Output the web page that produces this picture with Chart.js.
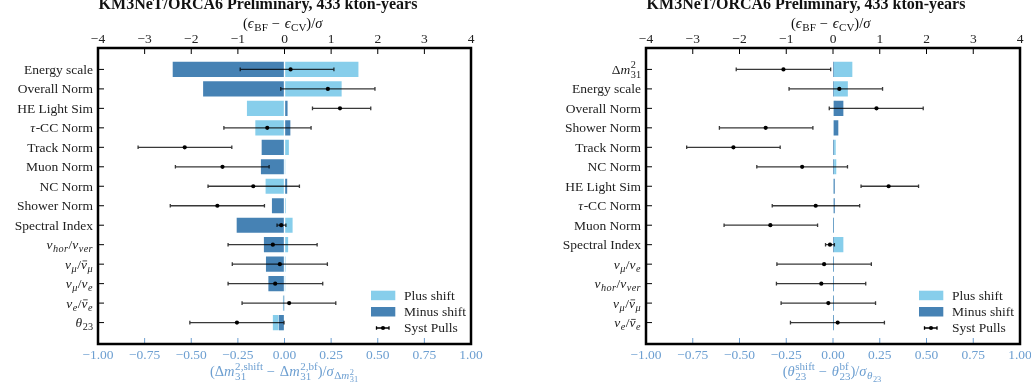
<!DOCTYPE html>
<html>
<head>
<meta charset="utf-8">
<script src="https://cdn.jsdelivr.net/npm/chart.js@4.4.1/dist/chart.umd.min.js"></script>
<style>
  body { margin: 0; background: #fff; width: 1031px; height: 390px; overflow: hidden; position: relative; }
  canvas { position: absolute; top: 0; }
</style>
</head>
<body>
<canvas id="left" width="515" height="390" style="left:0"></canvas>
<canvas id="right" width="516" height="390" style="left:515px"></canvas>
<script>
// ---- data ----
// left panel: shift of dm31^2
const labelsL = ["Energy scale", "Overall Norm", "HE Light Sim", "$τ$-CC Norm", "Track Norm", "Muon Norm",
  "NC Norm", "Shower Norm", "Spectral Index", "$ν_{hor}/ν_{ver}$", "$ν_μ/¯ν_μ$", "$ν_μ/ν_e$", "$ν_e/¯ν_e$", "$θ_{23}$"];
const plusL = [0.40, 0.31, -0.205, -0.16, 0.027, 0.005, -0.105, 0.01, 0.047, 0.023, 0.007, 0.005, -0.012, -0.066];
const minusL = [-0.603, -0.44, 0.02, 0.035, -0.126, -0.13, 0.018, -0.071, -0.26, -0.114, -0.103, -0.09, -0.006, -0.034];
const pullL = [0.13, 0.93, 1.19, -0.37, -2.14, -1.33, -0.67, -1.44, -0.07, -0.25, -0.10, -0.20, 0.10, -1.02];
const pullLoL = [-0.95, -0.08, 0.60, -1.30, -3.14, -2.34, -1.64, -2.45, -0.16, -1.21, -1.12, -1.21, -0.91, -2.03];
const pullHiL = [1.06, 1.94, 1.85, 0.57, -1.13, -0.33, 0.32, -0.43, 0.03, 0.70, 0.92, 0.82, 1.10, -0.01];

// right panel: shift of theta23
const labelsR = ["$Δm^2_{31}$", "Energy scale", "Overall Norm", "Shower Norm", "Track Norm", "NC Norm",
  "HE Light Sim", "$τ$-CC Norm", "Muon Norm", "Spectral Index", "$ν_μ/ν_e$", "$ν_{hor}/ν_{ver}$", "$ν_μ/¯ν_μ$", "$ν_e/¯ν_e$"];
const plusR = [0.107, 0.083, 0.02, 0.01, 0.018, 0.021, 0.006, 0.01, 0.004, 0.059, 0.005, 0.005, 0.005, 0.005];
const minusR = [0.004, 0.005, 0.059, 0.032, 0.006, 0.006, 0.013, 0.013, 0.005, 0.004, 0.006, 0.006, 0.006, 0.006];
const pullR = [-1.06, 0.135, 0.93, -1.44, -2.13, -0.66, 1.19, -0.37, -1.34, -0.065, -0.19, -0.25, -0.10, 0.10];
const pullLoR = [-2.07, -0.94, -0.08, -2.43, -3.13, -1.63, 0.60, -1.30, -2.33, -0.16, -1.20, -1.21, -1.11, -0.91];
const pullHiR = [-0.05, 1.06, 1.93, -0.43, -1.13, 0.31, 1.83, 0.57, -0.33, 0.03, 0.82, 0.70, 0.91, 1.10];

const titleText = "KM3NeT/ORCA6 Preliminary, 433 kton-years";
const topAxisTitle = "$(ϵ_{[BF]} − ϵ_{[CV]})/σ$";
const bottomTitleL = "$(Δm^{2,[shift]}_{31} − Δm^{2,[bf]}_{31})/σ_{Δm^2_{31}}$";
const bottomTitleR = "$(θ^{[shift]}_{23} − θ^{[bf]}_{23})/σ_{θ_{23}}$";
const legendNames = ["Plus shift", "Minus shift", "Syst Pulls"];

const FONT = '"Liberation Serif", "DejaVu Serif", serif';
const LIGHT = "#87ceeb";
const DARK = "#4682b4";
const BLUE = "#6d9fd1";
const FS = 13.5;
const SCR = 0.76;

// tiny TeX-ish text: $..$ math, _ ^ scripts, [..] upright, ¯ bar over next char
function parseRich(s) {
  let i = 0, math = false;
  function seq(rm) {
    const out = [];
    while (i < s.length) {
      const c = s[i];
      if (!math && !rm && c !== "$") {
        let run = "";
        while (i < s.length && s[i] !== "$") run += s[i++];
        out.push({ ch: run, rm: true });
        continue;
      }
      if (c === "}" || c === "]") { i++; break; }
      if (c === "$") { math = !math; i++; continue; }
      if (c === "{") { i++; out.push({ g: seq(rm) }); continue; }
      if (c === "[") { i++; out.push({ g: seq(true) }); continue; }
      if (c === "_" || c === "^") {
        i++;
        let arg;
        if (s[i] === "{") { i++; arg = seq(rm); }
        else { arg = [{ ch: s[i], rm }]; i++; }
        const prev = out[out.length - 1];
        prev.scr = prev.scr || {};
        prev.scr[c === "_" ? "sub" : "sup"] = arg;
        continue;
      }
      let bar = false;
      if (c === "¯") { bar = true; i++; }
      out.push({ ch: s[i], rm: rm, bar });
      i++;
    }
    return out;
  }
  return seq(false);
}

function rich(ctx, nodes, x, y, size, draw, bold) {
  let w = 0;
  for (const n of nodes) {
    let nw;
    if (n.g) {
      nw = rich(ctx, n.g, x + w, y, size, draw, bold);
    } else {
      const it = !n.rm && /[A-Za-zα-ωϵ]/.test(n.ch);
      ctx.font = (it ? "italic " : "") + (bold ? "bold " : "") + size + "px " + FONT;
      nw = ctx.measureText(n.ch).width;
      if (it) nw += size * 0.04;
      if (n.ch === "−") nw += size * 0.1;
      if (draw) {
        ctx.fillText(n.ch, x + w, y);
        if (n.bar) {
          ctx.fillRect(x + w + nw * 0.25, y - size * 0.6, nw * 0.7, Math.max(0.8, size * 0.06));
        }
      }
    }
    if (n.scr) {
      const s2 = size * SCR;
      let sw = 0, pw = 0;
      const both = n.scr.sub && n.scr.sup;
      if (n.scr.sub) sw = rich(ctx, n.scr.sub, x + w + nw, y + size * (both ? 0.3 : 0.22), s2, draw);
      if (n.scr.sup) pw = rich(ctx, n.scr.sup, x + w + nw, y - size * 0.42, s2, draw);
      nw += Math.max(sw, pw);
    }
    w += nw;
  }
  return w;
}

function richText(ctx, str, x, y, size, align, bold) {
  const nodes = parseRich(str);
  ctx.textAlign = "left";
  ctx.textBaseline = "alphabetic";
  const w = rich(ctx, nodes, 0, 0, size, false, bold);
  let x0 = x;
  if (align === "right") x0 = x - w;
  else if (align === "center") x0 = x - w / 2;
  rich(ctx, nodes, x0, y, size, true, bold);
}

function minus(s) { return String(s).replace("-", "−"); }

function makeChart(id, labels, plus, minusv, pull, lo, hi, bottomTitle, padL, padR) {
  const decor = {
    id: "decor",
    afterDraw(chart) {
      const c = chart.ctx;
      const ca = chart.chartArea;
      const xs = chart.scales.x, xt = chart.scales.x2, ys = chart.scales.y;
      c.save();
      // pulls with error bars on the sigma axis
      c.strokeStyle = "rgba(0,0,0,0.78)";
      c.fillStyle = "#000";
      c.lineWidth = 1.3;
      pull.forEach((p, i) => {
        const y = ys.getPixelForValue(i);
        const a = xt.getPixelForValue(lo[i]), b = xt.getPixelForValue(hi[i]);
        c.beginPath();
        c.moveTo(a, y); c.lineTo(b, y);
        c.moveTo(a, y - 1.8); c.lineTo(a, y + 1.8);
        c.moveTo(b, y - 1.8); c.lineTo(b, y + 1.8);
        c.stroke();
        c.beginPath();
        c.arc(xt.getPixelForValue(p), y, 2.1, 0, Math.PI * 2);
        c.fill();
      });
      // inward ticks
      c.lineWidth = 1;
      c.strokeStyle = "#000";
      c.beginPath();
      xt.ticks.forEach(t => {
        const x = xt.getPixelForValue(t.value);
        c.moveTo(x, ca.top); c.lineTo(x, ca.top + 6);
      });
      labels.forEach((l, i) => {
        const y = ys.getPixelForValue(i);
        c.moveTo(ca.left, y); c.lineTo(ca.left + 6, y);
      });
      c.stroke();
      c.strokeStyle = BLUE;
      c.beginPath();
      xs.ticks.forEach(t => {
        const x = xs.getPixelForValue(t.value);
        c.moveTo(x, ca.bottom); c.lineTo(x, ca.bottom - 6);
      });
      c.stroke();
      // frame
      c.strokeStyle = "#000";
      c.lineWidth = 2.5;
      c.strokeRect(ca.left, ca.top, ca.right - ca.left, ca.bottom - ca.top);
      // category labels
      c.fillStyle = "#222";
      labels.forEach((l, i) => {
        const y = ys.getPixelForValue(i);
        richText(c, l, ca.left - 5, y + FS * 0.33, FS, "right");
      });
      // titles
      c.fillStyle = "#111";
      richText(c, titleText, ca.left + 160, 9, 16, "center", true);
      richText(c, topAxisTitle, ca.left + 185, 27.5, 14.5, "center");
      c.fillStyle = BLUE;
      richText(c, bottomTitle, ca.left + 186, 376, 14.5, "center");
      // legend
      const lx = ca.left + 273, tx = ca.left + 306;
      c.fillStyle = LIGHT;
      c.fillRect(lx, ca.bottom - 53.3, 24.3, 9.5);
      c.fillStyle = DARK;
      c.fillRect(lx, ca.bottom - 37, 24.3, 9.5);
      const ly = ca.bottom - 16;
      c.strokeStyle = "#000";
      c.lineWidth = 1.3;
      c.beginPath();
      c.moveTo(lx + 5.5, ly); c.lineTo(lx + 18, ly);
      c.moveTo(lx + 5.5, ly - 1.8); c.lineTo(lx + 5.5, ly + 1.8);
      c.moveTo(lx + 18, ly - 1.8); c.lineTo(lx + 18, ly + 1.8);
      c.stroke();
      c.fillStyle = "#000";
      c.beginPath(); c.arc(lx + 12, ly, 2.1, 0, Math.PI * 2); c.fill();
      c.fillStyle = "#222";
      richText(c, legendNames[0], tx, ca.bottom - 48.5 + FS * 0.33, FS, "left");
      richText(c, legendNames[1], tx, ca.bottom - 32 + FS * 0.33, FS, "left");
      richText(c, legendNames[2], tx, ly + FS * 0.33, FS, "left");
      c.restore();
    }
  };

  const barCommon = { grouped: false, barThickness: 16.5, borderWidth: 1, borderColor: "rgba(255,255,255,0.55)", borderSkipped: false };
  return new Chart(document.getElementById(id), {
    type: "bar",
    data: {
      datasets: [
        Object.assign({ label: "Plus shift", data: plus.map((v, i) => ({ x: v, y: i })), backgroundColor: LIGHT, order: 2 }, barCommon),
        Object.assign({ label: "Minus shift", data: minusv.map((v, i) => ({ x: v, y: i })), backgroundColor: DARK, order: 1 }, barCommon)
      ]
    },
    options: {
      indexAxis: "y",
      responsive: false,
      animation: false,
      layout: { padding: { left: padL, right: padR, top: 0, bottom: 0 } },
      plugins: { legend: { display: false }, tooltip: { enabled: false } },
      scales: {
        x: {
          type: "linear", position: "bottom", min: -1, max: 1,
          ticks: { stepSize: 0.25, color: BLUE, padding: -5, autoSkip: false, maxRotation: 0,
            font: { family: FONT, size: FS }, callback: v => minus(v.toFixed(2)) },
          grid: { display: false }, border: { display: false },
          afterFit: s => { s.height = 46; }
        },
        x2: {
          type: "linear", position: "top", min: -4, max: 4,
          ticks: { stepSize: 1, color: "#222", padding: -8, autoSkip: false, maxRotation: 0,
            font: { family: FONT, size: FS }, callback: v => minus(v) },
          grid: { display: false }, border: { display: false },
          afterFit: s => { s.height = 48; }
        },
        y: {
          type: "linear", reverse: true, min: -1.1, max: 14.1, offset: false,
          ticks: { display: false }, grid: { display: false }, border: { display: false },
          afterFit: s => { s.width = 0; }
        }
      }
    },
    plugins: [decor]
  });
}

makeChart("left", labelsL, plusL, minusL, pullL, pullLoL, pullHiL, bottomTitleL, 98, 44);
makeChart("right", labelsR, plusR, minusR, pullR, pullLoR, pullHiR, bottomTitleR, 131, 11);
</script>
</body>
</html>
